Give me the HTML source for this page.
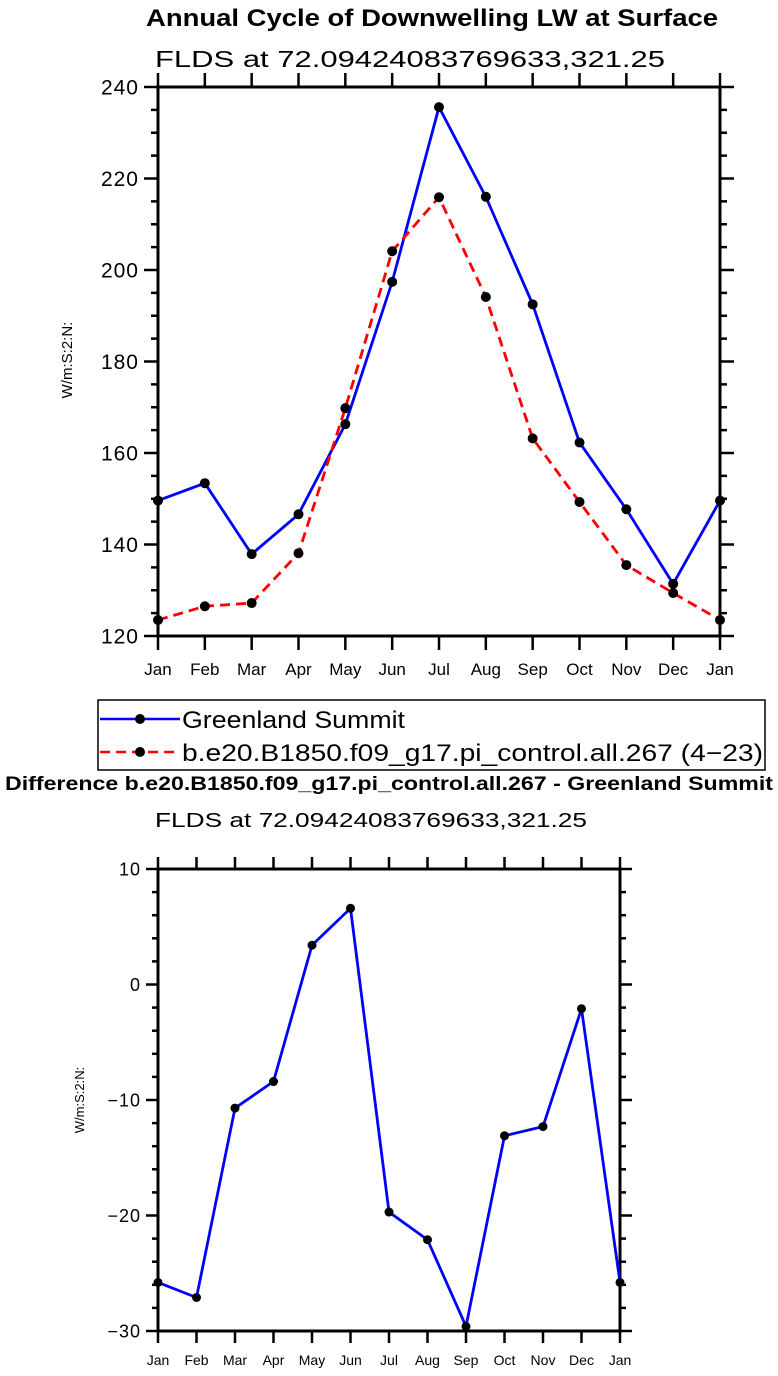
<!DOCTYPE html>
<html><head><meta charset="utf-8"><style>
body{margin:0;background:#fff;width:778px;height:1376px;overflow:hidden}
svg{display:block;font-family:"Liberation Sans",sans-serif}
</style></head><body>
<svg id="s" width="778" height="1376" viewBox="0 0 778 1376">
<text x="146" y="26" textLength="572" lengthAdjust="spacingAndGlyphs" font-weight="bold" font-size="24">Annual Cycle of Downwelling LW at Surface</text>
<text x="155" y="67" textLength="510" lengthAdjust="spacingAndGlyphs" font-size="23">FLDS at 72.09424083769633,321.25</text>
<text transform="translate(72,360) rotate(-90)" text-anchor="middle" font-size="15">W/m:S:2:N:</text>
<g>
<rect x="98" y="700" width="667" height="70" fill="none" stroke="#000" stroke-width="1.5"/>
<line x1="100" y1="719" x2="180" y2="719" stroke="#00f" stroke-width="2.5"/>
<circle cx="140" cy="719" r="5" fill="#000"/>
<text x="182" y="728" textLength="223" lengthAdjust="spacingAndGlyphs" font-size="24">Greenland Summit</text>
<line x1="100" y1="752" x2="180" y2="752" stroke="#f00" stroke-width="2.5" stroke-dasharray="10,6"/>
<circle cx="140" cy="752" r="5" fill="#000"/>
<text x="182" y="761" textLength="581" lengthAdjust="spacingAndGlyphs" font-size="24">b.e20.B1850.f09_g17.pi_control.all.267 (4−23)</text>
</g>
<text x="5" y="790" textLength="768" lengthAdjust="spacingAndGlyphs" font-weight="bold" font-size="19">Difference b.e20.B1850.f09_g17.pi_control.all.267 - Greenland Summit</text>
<text x="155" y="827" textLength="432" lengthAdjust="spacingAndGlyphs" font-size="20">FLDS at 72.09424083769633,321.25</text>
<text transform="translate(84,1100) rotate(-90)" text-anchor="middle" font-size="13">W/m:S:2:N:</text>
</svg>
<script>
const months=["Jan","Feb","Mar","Apr","May","Jun","Jul","Aug","Sep","Oct","Nov","Dec","Jan"];
const obsValues=[149.6,153.4,137.9,146.6,166.3,197.4,235.6,216.0,192.5,162.3,147.7,131.4,149.6];
const modelValues=[123.5,126.5,127.2,138.1,169.8,204.1,215.9,194.1,163.2,149.3,135.5,129.4,123.5];
const diffValues=[-25.8,-27.1,-10.7,-8.4,3.4,6.6,-19.7,-22.1,-29.6,-13.1,-12.3,-2.1,-25.8];
const topTicks=[120,140,160,180,200,220,240];
const bottomTicks=[-30,-20,-10,0,10];
const NS="http://www.w3.org/2000/svg";
const svg=document.getElementById('s');
function mk(t,a,name){const e=document.createElementNS(NS,t);for(const k in a)e.setAttribute(k,a[k]);


svg.appendChild(e);return e;}
function chart(p,pre){
 const xs=i=>p.x0+(p.x1-p.x0)*i/(months.length-1);
 const ys=v=>p.y1-(v-p.min)/(p.max-p.min)*(p.y1-p.y0);
 const step=p.ticks[1]-p.ticks[0];
 for(let v=p.min;v<=p.max+1e-9;v+=step/p.minor){
  const y=ys(v);const maj=Math.abs(((v-p.min)/step)-Math.round((v-p.min)/step))<1e-6;
  const L=maj?p.tl:p.tl*0.5;
  mk('line',{x1:p.x0-L,x2:p.x0,y1:y,y2:y,stroke:'#000','stroke-width':2.5},pre+'-y-tick-left');
  mk('line',{x1:p.x1+L,x2:p.x1,y1:y,y2:y,stroke:'#000','stroke-width':2.5},pre+'-y-tick-right');
 }
 p.ticks.forEach(v=>{const t=mk('text',{x:p.x0-p.tl-5,y:ys(v)+p.fs*0.36,'text-anchor':'end','font-size':p.fs,'letter-spacing':1},pre+'-y-tick-label');t.textContent=v<0?'−'+(-v):v;});
 months.forEach((m,i)=>{const x=xs(i);
  mk('line',{x1:x,x2:x,y1:p.y1,y2:p.y1+p.tl,stroke:'#000','stroke-width':2.5},pre+'-x-tick-bottom');
  mk('line',{x1:x,x2:x,y1:p.y0,y2:p.y0-p.tl,stroke:'#000','stroke-width':2.5},pre+'-x-tick-top');
  const t=mk('text',{x:x,y:p.y1+p.tl+p.xfs+8,'text-anchor':'middle','font-size':p.xfs},pre+'-x-tick-label');t.textContent=m;});
 mk('rect',{x:p.x0,y:p.y0,width:p.x1-p.x0,height:p.y1-p.y0,fill:'none',stroke:'#000','stroke-width':3},pre+'-plot-frame');
 p.series.forEach(s=>{
  mk('polyline',{points:s.v.map((v,i)=>xs(i)+','+ys(v)).join(' '),fill:'none',stroke:s.c,'stroke-width':2.8,'stroke-dasharray':s.d||'none'},pre+'-'+s.n+'-line');
  s.v.forEach((v,i)=>mk('circle',{cx:xs(i),cy:ys(v),r:p.r,fill:'#000'},pre+'-'+s.n+'-point'));
 });
}
chart({x0:158,x1:720,y0:87,y1:636,min:120,max:240,ticks:topTicks,minor:4,tl:14,fs:21,xfs:17,r:5,
 series:[{v:obsValues,c:'#00f',n:'obs'},{v:modelValues,c:'#f00',d:'10,6',n:'model'}]},'top');
chart({x0:158,x1:620,y0:869,y1:1331,min:-30,max:10,ticks:bottomTicks,minor:5,tl:12,fs:18,xfs:14,r:4.5,
 series:[{v:diffValues,c:'#00f',n:'diff'}]},'bottom');
</script>
</body></html>
